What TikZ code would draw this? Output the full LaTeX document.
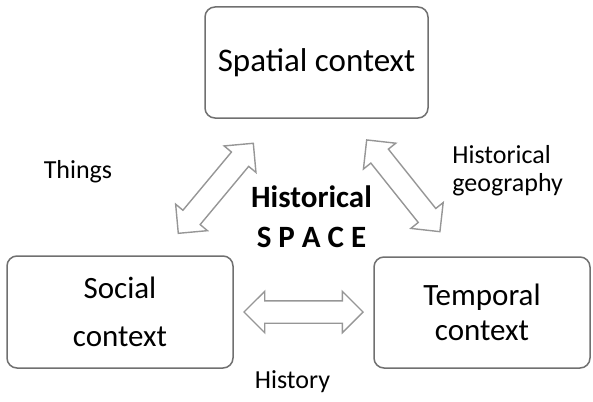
\documentclass[tikz,border=0pt]{standalone}
\usepackage{fontspec}
\setmainfont{Carlito}
\usepackage{tikz}
\usetikzlibrary{shapes.arrows}

\definecolor{boxgray}{RGB}{112,112,112}
\definecolor{arrowgray}{RGB}{150,150,150}

\begin{document}
\begin{tikzpicture}[x=0.5pt,y=-0.5pt,
    ctxbox/.style={draw=boxgray,line width=0.75pt,rounded corners=5pt,align=center,
      font=\fontsize{15.5}{24}\selectfont},
    linkarrow/.style={draw=arrowgray,line width=0.7pt,shape=double arrow,inner sep=5.25pt,
      double arrow head extend=4.75pt,minimum width=20pt,minimum height=#1},
    linklabel/.style={font=\fontsize{13}{14}\selectfont,inner sep=0pt}]
      \useasboundingbox (0,0) rectangle (593,401);
      % contexts
      \node[ctxbox,minimum width=111.5pt,minimum height=55.5pt,font=\fontsize{16.5}{20}\selectfont] (spatial) at (316.5,62.5) {Spatial context};
      \node[ctxbox,minimum width=113pt,minimum height=56pt] (social) at (120,312) {Social\\context};
      \node[ctxbox,minimum width=108pt,minimum height=55.5pt,font=\fontsize{15.5}{17.5}\selectfont] (temporal) at (482,312.5) {Temporal\\context};
      % links
      \node[linkarrow=58.6pt,rotate=50.2] (things) at (215.8,188.3) {};
      \node[linkarrow=58.7pt,rotate=-51.4] (geography) at (403.3,185.8) {};
      \node[linkarrow=59.5pt] (history) at (303.5,312) {};
      % labels
      \node[linklabel,anchor=base] (thingslbl) at (78,178) {Things};
      \node[linklabel,anchor=north west,align=left] (geographylbl) at (452,145) {Historical\\geography};
      \node[linklabel,anchor=base] (historylbl) at (292.5,388) {History};
      \node[font=\bfseries\fontsize{15.5}{20}\selectfont,align=center,inner sep=0pt] (space) at (311.5,217) {Historical\\S P A C E};
    \end{tikzpicture}
\end{document}
